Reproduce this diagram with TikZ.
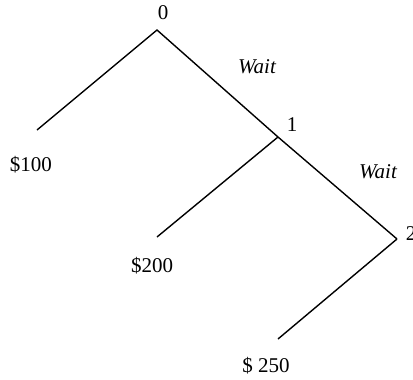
\documentclass[tikz,border=0pt]{standalone}
\usepackage{fontspec}
\setmainfont{Liberation Serif}
\begin{document}
\begin{tikzpicture}[x=0.5pt, y=-0.5pt, line width=0.7pt,
    lbl/.style={font=\fontsize{10.5}{12}\selectfont, inner sep=0pt},
    act/.style={lbl, font=\fontsize{10.5}{12}\selectfont\itshape}]

    \useasboundingbox (0,0) rectangle (413,380);

    % Puntos de decision
    \coordinate (n0) at (157,30);
    \coordinate (n1) at (278,137);
    \coordinate (n2) at (397,239);

    % Hojas
    \coordinate (h0) at (37,130);
    \coordinate (h1) at (157,237);
    \coordinate (h2) at (278,339);

    % Ramas
    \draw (h0) -- (n0) -- (n1) -- (n2);
    \draw (n1) -- (h1);
    \draw (n2) -- (h2);

    % Etiquetas de etapas
    \node[lbl] (t0) at (163,13) {0};
    \node[lbl] (t1) at (292,125) {1};
    \node[lbl] (t2) at (411,234) {2};

    % Acciones
    \node[act] (w0) at (257,67) {Wait};
    \node[act] (w1) at (378,172) {Wait};

    % Pagos
    \node[lbl] (p0) at (31,165) {\$100};
    \node[lbl] (p1) at (152,266) {\$200};
    \node[lbl] (p2) at (266,366) {\$ 250};

\end{tikzpicture}
\end{document}
